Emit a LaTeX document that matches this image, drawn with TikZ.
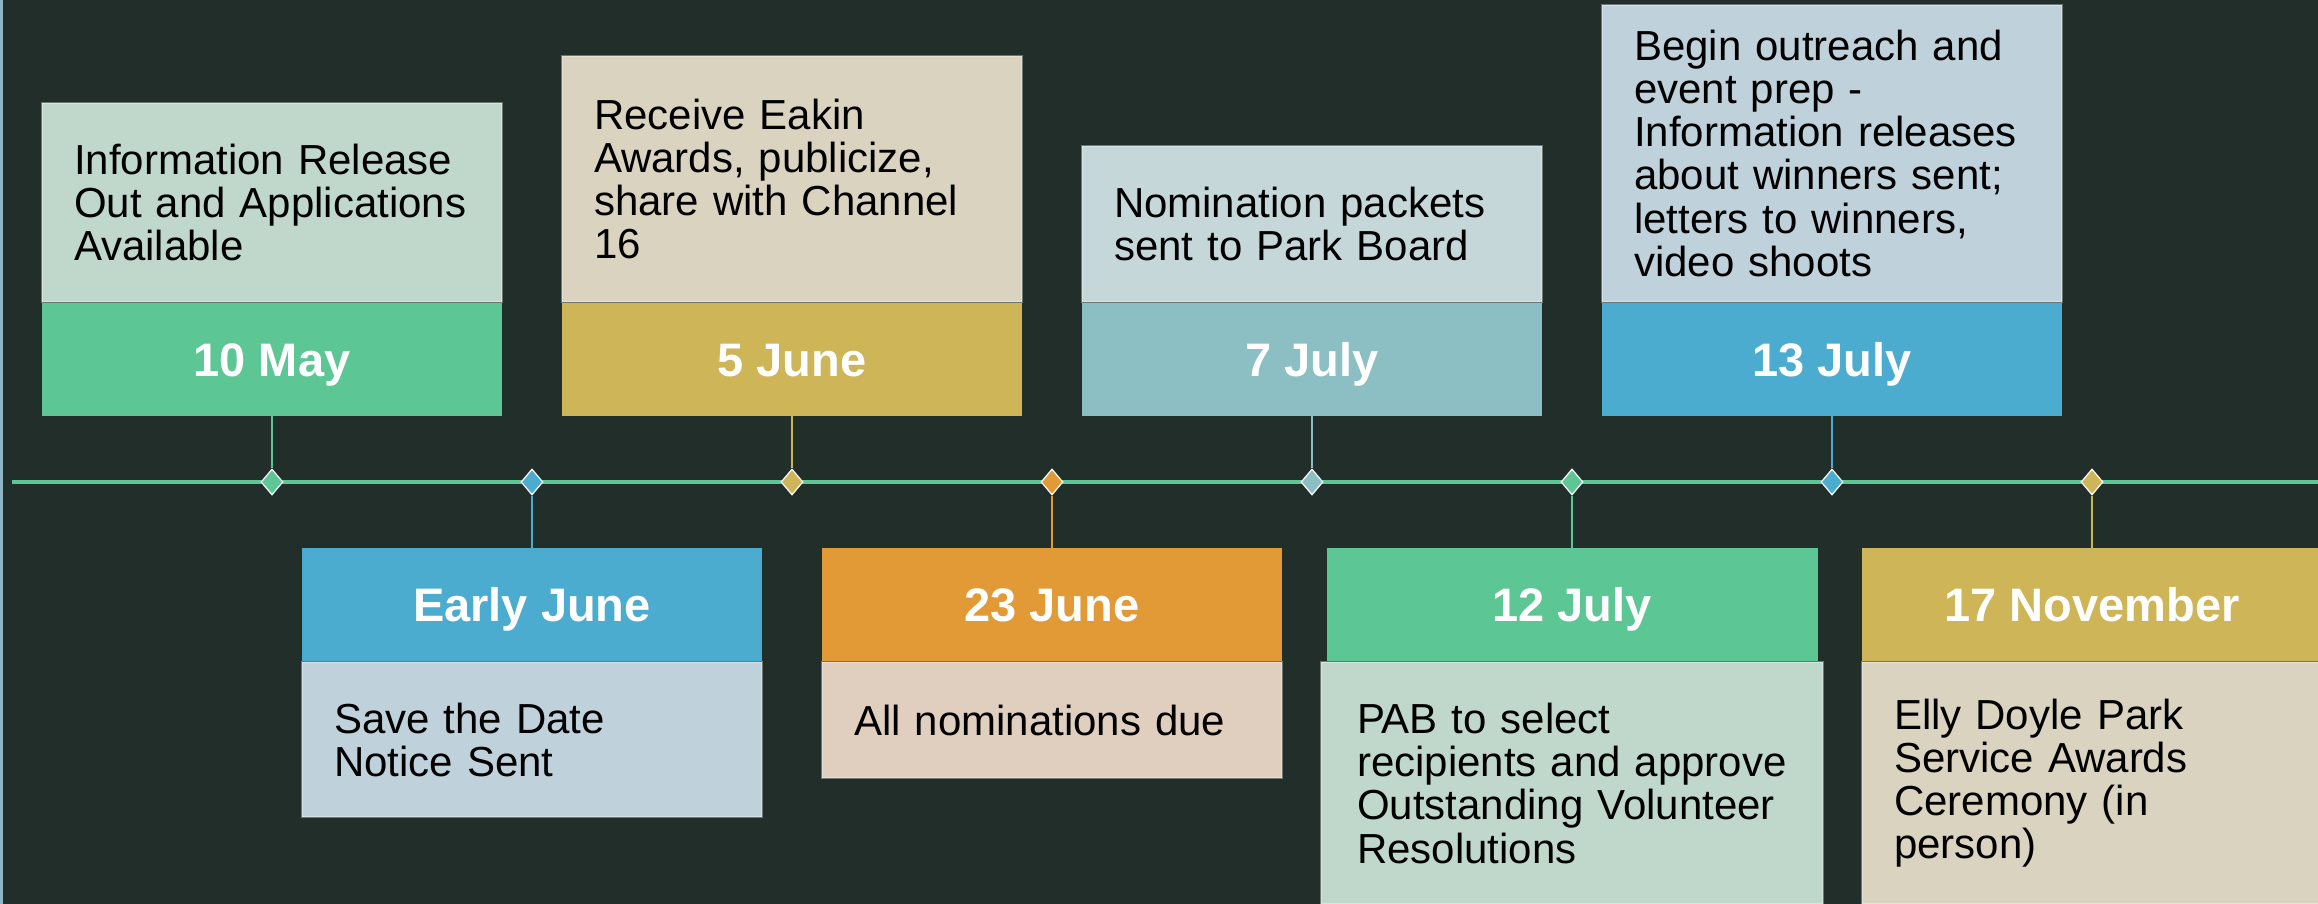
\documentclass[tikz,border=0pt]{standalone}
\usepackage{fontspec}
\setmainfont{Liberation Sans}
\usepackage{tikz}
\usetikzlibrary{positioning,shapes.geometric}
\hyphenpenalty=10000

\definecolor{bgdark}{HTML}{212E29}
\definecolor{edgeblue}{HTML}{8FB6C2}
\definecolor{mintdark}{HTML}{5DC695}
\definecolor{mintlight}{HTML}{BFD8CB}
\definecolor{golddark}{HTML}{CEB557}
\definecolor{goldlight}{HTML}{D9D3BF}
\definecolor{tealdark}{HTML}{8CBFC3}
\definecolor{teallight}{HTML}{C5D7D8}
\definecolor{skydark}{HTML}{4BACCF}
\definecolor{skylight}{HTML}{BFD1DA}
\definecolor{orangedark}{HTML}{E19A35}
\definecolor{orangelight}{HTML}{E0CEBF}

\begin{document}
\begin{tikzpicture}[x=1pt,y=1pt,node distance=26pt]
    \tikzstyle{milestone}=[diamond,draw=white,line width=0.6pt,minimum width=11pt,minimum height=13pt,inner sep=0pt]
    \tikzstyle{datebox}=[rectangle,minimum width=230pt,minimum height=56.5pt,inner sep=0pt,text height=17pt,text depth=0pt,text=white,font=\fontsize{23.5}{26}\selectfont\bfseries]
    \tikzstyle{notebox}=[rectangle,draw=white,draw opacity=0.35,line width=0.8pt,text width=198pt,inner xsep=16pt,inner ysep=0pt,align=left,font=\fontsize{21}{21.6}\selectfont]
    \tikzstyle{stemline}=[line width=0.8pt]

    % Background and frame
    \useasboundingbox (0,0) rectangle (1159,-452);
    \fill[bgdark] (0,0) rectangle (1159,-452);
    \fill[edgeblue] (0,0) rectangle (1.5,-452);

    % Draw the time axis
    \coordinate (start) at (6,-241);
    \coordinate (end) at (1162,-241);
    \draw[mintdark,line width=2pt] (start) -- (end);

    % Draw the milestones on the axis
    \foreach \name/\col in {1/mintdark,2/skydark,3/golddark,4/orangedark,5/tealdark,6/mintdark,7/skydark,8/golddark}
        \node[milestone,fill=\col] (M-\name) at ({6+130*\name},-241) {};

    % Events above the axis
    \node[datebox,fill=mintdark,above=of M-1] (B-1) {10 May};
    \node[notebox,fill=mintlight,minimum height=99.5pt,above=0pt of B-1] (N-1) {Information Release\\Out and Applications\\Available};

    \node[datebox,fill=golddark,above=of M-3] (B-3) {5 June};
    \node[notebox,fill=goldlight,minimum height=123pt,above=0pt of B-3] (N-3) {Receive Eakin\\Awards, publicize,\\share with Channel\\16};

    \node[datebox,fill=tealdark,above=of M-5] (B-5) {7 July};
    \node[notebox,fill=teallight,minimum height=78pt,above=0pt of B-5] (N-5) {Nomination packets\\sent to Park Board};

    \node[datebox,fill=skydark,above=of M-7] (B-7) {13 July};
    \node[notebox,fill=skylight,minimum height=148.5pt,above=0pt of B-7] (N-7) {Begin outreach and\\event prep -\\Information releases\\about winners sent;\\letters to winners,\\video shoots};

    % Events below the axis
    \node[datebox,fill=skydark,below=of M-2] (B-2) {Early June};
    \node[notebox,fill=skylight,minimum height=77.5pt,below=0pt of B-2] (N-2) {Save the Date\\Notice Sent};

    \node[datebox,fill=orangedark,below=of M-4] (B-4) {23 June};
    \node[notebox,fill=orangelight,minimum height=58pt,below=0pt of B-4] (N-4) {All nominations due};

    \node[datebox,fill=mintdark,minimum width=245.5pt,below=of M-6] (B-6) {12 July};
    \node[notebox,fill=mintlight,text width=215pt,inner xsep=18pt,minimum height=121pt,below=0pt of B-6] (N-6) {PAB to select\\recipients and approve\\Outstanding Volunteer\\Resolutions};

    \node[datebox,fill=golddark,below=of M-8] (B-8) {17 November};
    \node[notebox,fill=goldlight,minimum height=121pt,below=0pt of B-8] (N-8) {Elly Doyle Park\\Service Awards\\Ceremony (in\\person)};

    % Connect every date to its milestone
    \foreach \name/\col in {1/mintdark,2/skydark,3/golddark,4/orangedark,5/tealdark,6/mintdark,7/skydark,8/golddark}
        \path[draw=\col,stemline] (B-\name) -- (M-\name);
\end{tikzpicture}
\end{document}
